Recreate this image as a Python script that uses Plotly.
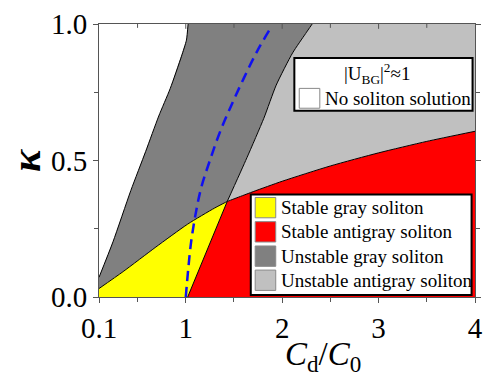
import plotly.graph_objects as go

# ---------------- data ----------------
X_RANGE = [0.1, 4.0]
Y_RANGE = [0.0, 1.0]

x_tickvals = [0.1, 1, 2, 3, 4]
x_ticktext = ["0.1", "1", "2", "3", "4"]
x_minor = [0.5, 1.5, 2.5, 3.5]
y_tickvals = [0.0, 0.5, 1.0]
y_ticktext = ["0.0", "0.5", "1.0"]
y_minor = [0.25, 0.75]

# left edge of the unstable-gray band (no-solution / unstable gray boundary)
edge_a_x = [0.1, 0.245, 0.43, 0.584, 0.72, 0.838, 0.956, 1.007, 1.024]
edge_a_y = [0.072, 0.202, 0.39, 0.533, 0.663, 0.763, 0.882, 0.941, 1.0]

# upper edge of the stable gray (yellow) region
edge_b1_x = [0.1, 0.35, 0.69, 1.02, 1.3, 1.43]
edge_b1_y = [0.031, 0.093, 0.183, 0.267, 0.326, 0.35]

# upper edge of the stable antigray (red) region
edge_b2_x = [1.43, 1.7, 2.0, 2.5, 3.0, 3.5, 4.0]
edge_b2_y = [0.35, 0.386, 0.424, 0.48, 0.528, 0.57, 0.607]

# yellow / red boundary
edge_c_x = [1.02, 1.43]
edge_c_y = [0.0, 0.35]

# right edge of the unstable-gray band
edge_d_x = [1.43, 1.634, 1.81, 1.938, 2.108, 2.243, 2.311]
edge_d_y = [0.35, 0.51, 0.655, 0.776, 0.894, 0.965, 1.0]

# blue dashed curve |U_BG|^2 ~ 1
blue_x = [1.0, 1.025, 1.055, 1.10, 1.16, 1.25, 1.35, 1.47, 1.60, 1.74, 1.864]
blue_y = [0.0, 0.1, 0.2, 0.3, 0.4, 0.5, 0.6, 0.7, 0.8, 0.9, 0.976]

legend_labels = ["Stable gray soliton", "Stable antigray soliton",
                 "Unstable gray soliton", "Unstable antigray soliton"]
legend_colors = ["#FFFF00", "#FF0000", "#808080", "#C0C0C0"]
no_solution_label = "No soliton solution"
legend_title = "|U<sub>BG</sub>|<sup>2</sup>≈1"

# ---------------- figure ----------------
W, H = 491, 382
ML, MR, MT, MB = 99, 8, 15, 85
PW, PH = W - ML - MR, H - MT - MB
SERIF = "Liberation Serif, Times New Roman, serif"
AXC = "#555555"


def px(xp):
    return (xp - ML) / PW


def py(yp):
    return (H - MB - yp) / PH


x0, x1 = X_RANGE
y0, y1 = Y_RANGE

fig = go.Figure()

# unstable gray (dark gray)
fig.add_trace(go.Scatter(
    x=edge_a_x + edge_d_x[::-1] + edge_b1_x[::-1],
    y=edge_a_y + edge_d_y[::-1] + edge_b1_y[::-1],
    fill="toself", fillcolor=legend_colors[2], mode="lines",
    line=dict(width=0), hoverinfo="skip"))
# unstable antigray (light gray)
fig.add_trace(go.Scatter(
    x=edge_d_x + [x1, x1] + edge_b2_x[::-1],
    y=edge_d_y + [y1, edge_b2_y[-1]] + edge_b2_y[::-1],
    fill="toself", fillcolor=legend_colors[3], mode="lines",
    line=dict(width=0), hoverinfo="skip"))
# stable gray (yellow)
fig.add_trace(go.Scatter(
    x=[x0] + edge_b1_x + edge_c_x[::-1],
    y=[y0] + edge_b1_y + edge_c_y[::-1],
    fill="toself", fillcolor=legend_colors[0], mode="lines",
    line=dict(width=0), hoverinfo="skip"))
# stable antigray (red)
fig.add_trace(go.Scatter(
    x=edge_c_x + edge_b2_x + [x1],
    y=edge_c_y + edge_b2_y + [y0],
    fill="toself", fillcolor=legend_colors[1], mode="lines",
    line=dict(width=0), hoverinfo="skip"))

# black boundary curves
for bx, by in [(edge_a_x, edge_a_y), (edge_b1_x + edge_b2_x, edge_b1_y + edge_b2_y),
               (edge_c_x, edge_c_y), (edge_d_x, edge_d_y)]:
    fig.add_trace(go.Scatter(x=bx, y=by, mode="lines",
                             line=dict(color="black", width=1, shape="spline", smoothing=0.6),
                             hoverinfo="skip"))

# blue dashed curve
fig.add_trace(go.Scatter(x=blue_x, y=blue_y, mode="lines",
                         line=dict(color="#1010F0", width=2.5, dash="10px,6px",
                                   shape="spline"),
                         hoverinfo="skip"))

tickfont = dict(family=SERIF, size=29, color="black")
fig.update_layout(
    width=W, height=H,
    margin=dict(l=ML, r=MR, t=MT, b=MB),
    plot_bgcolor="white", paper_bgcolor="white",
    showlegend=False,
    xaxis=dict(range=X_RANGE, tickmode="array", tickvals=x_tickvals, ticktext=x_ticktext,
               ticks="outside", ticklen=5, tickwidth=1, tickcolor=AXC,
               showline=True, linecolor=AXC, linewidth=1, mirror=True,
               showgrid=False, zeroline=False, tickfont=tickfont,
               ticklabeloverflow="allow",
               minor=dict(tickvals=x_minor, ticks="outside", ticklen=4, tickcolor=AXC,
                          showgrid=False)),
    yaxis=dict(range=Y_RANGE, tickmode="array", tickvals=y_tickvals, ticktext=y_ticktext,
               ticks="outside", ticklen=5, tickwidth=1, tickcolor=AXC,
               showline=True, linecolor=AXC, linewidth=1, mirror="ticks",
               showgrid=False, zeroline=False, tickfont=tickfont,
               ticklabeloverflow="allow",
               minor=dict(tickvals=y_minor, ticks="outside", ticklen=4, tickcolor=AXC,
                          showgrid=False)),
)

shapes = []
annotations = []
lfont = dict(family=SERIF, size=19, color="black")

# inward tick marks along the top edge (at the x tick values)
for tv, tl in [(v, 5) for v in x_tickvals[1:-1]] + [(v, 4) for v in x_minor]:
    shapes.append(dict(type="line", xref="x", yref="paper", x0=tv, x1=tv,
                       y0=1, y1=1 - tl / PH, line=dict(color=AXC, width=1)))

# upper legend box
shapes.append(dict(type="rect", xref="paper", yref="paper",
                   x0=px(298.5), x1=px(480.5), y0=py(104.5), y1=py(50),
                   fillcolor="white", line=dict(color="black", width=2)))
shapes.append(dict(type="rect", xref="paper", yref="paper",
                   x0=px(303.5), x1=px(324.5), y0=py(102), y1=py(81.5),
                   fillcolor="white", line=dict(color="#888888", width=1)))
annotations.append(dict(xref="paper", yref="paper", x=px(383), y=py(66.5),
                        xanchor="center", yanchor="middle", text=legend_title,
                        showarrow=False, font=lfont))
annotations.append(dict(xref="paper", yref="paper", x=px(328), y=py(91.5),
                        xanchor="left", yanchor="middle", text=no_solution_label,
                        showarrow=False, font=lfont))

# lower legend box
shapes.append(dict(type="rect", xref="paper", yref="paper",
                   x0=px(254), x1=px(479.5), y0=py(295), y1=py(191),
                   fillcolor="white", line=dict(color="black", width=2)))
row_y = [204.7, 229.7, 254.8, 279.7]
for lab, col, ry in zip(legend_labels, legend_colors, row_y):
    shapes.append(dict(type="rect", xref="paper", yref="paper",
                       x0=px(258.5), x1=px(279.5), y0=py(ry + 10.5), y1=py(ry - 10.5),
                       fillcolor=col, line=dict(color="#888888", width=1)))
    annotations.append(dict(xref="paper", yref="paper", x=px(283), y=py(ry),
                            xanchor="left", yanchor="middle", text=lab,
                            showarrow=False, font=lfont))

# axis titles
annotations.append(dict(xref="paper", yref="paper", x=px(328), y=py(358),
                        xanchor="center", yanchor="middle",
                        text="<i>C</i><sub>d</sub>/<i>C</i><sub>0</sub>",
                        showarrow=False, font=dict(family=SERIF, size=33, color="black")))
annotations.append(dict(xref="paper", yref="paper", x=px(24), y=py(156),
                        xanchor="center", yanchor="middle", textangle=-90,
                        text="<b><i>κ</i></b>",
                        showarrow=False, font=dict(family=SERIF, size=42, color="black")))

fig.update_layout(shapes=shapes, annotations=annotations)
fig.write_html("out.html", config={"displayModeBar": False},
               post_script="document.body.style.margin='0';document.body.style.overflow='hidden';")
